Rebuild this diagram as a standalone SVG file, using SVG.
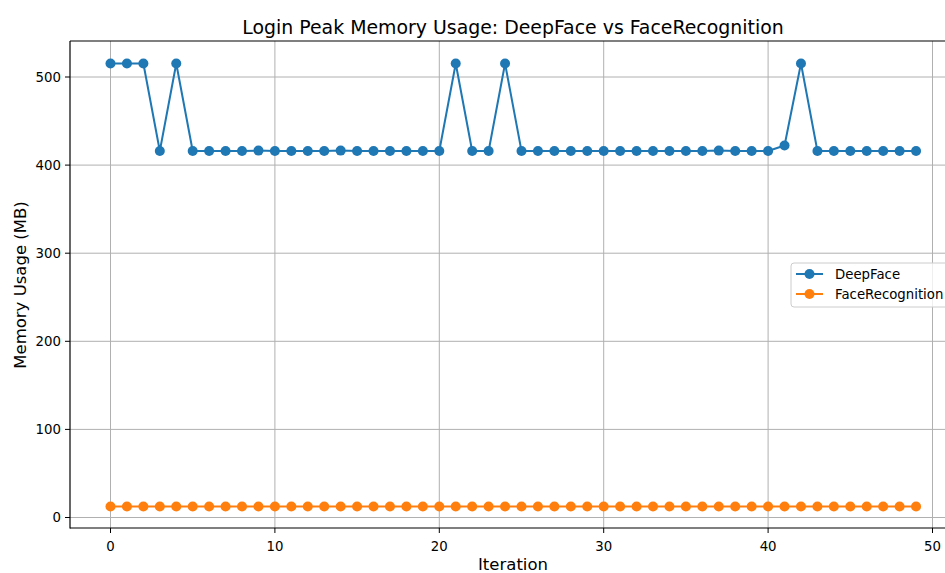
<svg xmlns="http://www.w3.org/2000/svg" width="945" height="573" viewBox="0 0 945 573">
<defs>
<style>
text{font-family:"DejaVu Sans","Liberation Sans",sans-serif;fill:#000}
.grid{stroke:#b0b0b0;stroke-width:1}
.tick{stroke:#000;stroke-width:1}
.tl{font-size:13.3px}
.df{fill:none;stroke:#1f77b4;stroke-width:2;stroke-linejoin:round}
.fr{fill:none;stroke:#ff7f0e;stroke-width:2;stroke-linejoin:round}
</style>
<marker id="mb" markerUnits="userSpaceOnUse" markerWidth="12" markerHeight="12" refX="6" refY="6" viewBox="0 0 12 12"><circle cx="6" cy="6" r="5" fill="#1f77b4"/></marker>
<marker id="mo" markerUnits="userSpaceOnUse" markerWidth="12" markerHeight="12" refX="6" refY="6" viewBox="0 0 12 12"><circle cx="6" cy="6" r="5" fill="#ff7f0e"/></marker>
<clipPath id="ax"><rect x="70" y="41" width="880" height="487"/></clipPath>
</defs>
<rect width="945" height="573" fill="#fff"/>
<g id="grid" clip-path="url(#ax)">
<line class="grid" x1="110.5" y1="41" x2="110.5" y2="528"/>
<line class="grid" x1="274.9" y1="41" x2="274.9" y2="528"/>
<line class="grid" x1="439.3" y1="41" x2="439.3" y2="528"/>
<line class="grid" x1="603.7" y1="41" x2="603.7" y2="528"/>
<line class="grid" x1="768.1" y1="41" x2="768.1" y2="528"/>
<line class="grid" x1="932.5" y1="41" x2="932.5" y2="528"/>
<line class="grid" x1="70" y1="517.5" x2="945" y2="517.5"/>
<line class="grid" x1="70" y1="429.4" x2="945" y2="429.4"/>
<line class="grid" x1="70" y1="341.3" x2="945" y2="341.3"/>
<line class="grid" x1="70" y1="253.2" x2="945" y2="253.2"/>
<line class="grid" x1="70" y1="165.1" x2="945" y2="165.1"/>
<line class="grid" x1="70" y1="77" x2="945" y2="77"/>
</g>
<g id="series" clip-path="url(#ax)">
<polyline id="deepface" class="df" marker-start="url(#mb)" marker-mid="url(#mb)" marker-end="url(#mb)" points="110.5,63.5 126.94,63.5 143.38,63.5 159.82,151 176.26,63.5 192.7,151 209.14,151 225.58,151 242.02,151 258.46,150.6 274.9,151 291.34,151 307.78,151 324.22,151 340.66,150.6 357.1,151 373.54,151 389.98,151 406.42,151 422.86,151 439.3,151 455.74,63.5 472.18,151 488.62,151 505.06,63.5 521.5,151 537.94,151 554.38,151 570.82,151 587.26,151 603.7,151 620.14,151 636.58,151 653.02,151 669.46,151 685.9,151 702.34,151 718.78,150.6 735.22,151 751.66,151 768.1,151 784.54,145.5 800.98,63.5 817.42,151 833.86,151 850.3,151 866.74,151 883.18,151 899.62,151 916.06,151"/>
<polyline id="facerecognition" class="fr" marker-start="url(#mo)" marker-mid="url(#mo)" marker-end="url(#mo)" points="110.5,506.5 126.94,506.5 143.38,506.5 159.82,506.5 176.26,506.5 192.7,506.5 209.14,506.5 225.58,506.5 242.02,506.5 258.46,506.5 274.9,506.5 291.34,506.5 307.78,506.5 324.22,506.5 340.66,506.5 357.1,506.5 373.54,506.5 389.98,506.5 406.42,506.5 422.86,506.5 439.3,506.5 455.74,506.5 472.18,506.5 488.62,506.5 505.06,506.5 521.5,506.5 537.94,506.5 554.38,506.5 570.82,506.5 587.26,506.5 603.7,506.5 620.14,506.5 636.58,506.5 653.02,506.5 669.46,506.5 685.9,506.5 702.34,506.5 718.78,506.5 735.22,506.5 751.66,506.5 768.1,506.5 784.54,506.5 800.98,506.5 817.42,506.5 833.86,506.5 850.3,506.5 866.74,506.5 883.18,506.5 899.62,506.5 916.06,506.5"/>
</g>
<g id="spines" stroke="#000" stroke-width="1.2" fill="none">
<line x1="70" y1="41" x2="945" y2="41"/>
<line x1="70" y1="41" x2="70" y2="528.5"/>
<line x1="70" y1="528" x2="945" y2="528"/>
</g>
<g id="xticks">
<line class="tick" x1="110.5" y1="528" x2="110.5" y2="533"/>
<line class="tick" x1="274.9" y1="528" x2="274.9" y2="533"/>
<line class="tick" x1="439.3" y1="528" x2="439.3" y2="533"/>
<line class="tick" x1="603.7" y1="528" x2="603.7" y2="533"/>
<line class="tick" x1="768.1" y1="528" x2="768.1" y2="533"/>
<line class="tick" x1="932.5" y1="528" x2="932.5" y2="533"/>
<g class="tl" text-anchor="middle">
<text x="110.5" y="551">0</text>
<text x="274.9" y="551">10</text>
<text x="439.3" y="551">20</text>
<text x="603.7" y="551">30</text>
<text x="768.1" y="551">40</text>
<text x="932.5" y="551">50</text>
</g>
</g>
<g id="yticks">
<line class="tick" x1="65" y1="517.5" x2="70" y2="517.5"/>
<line class="tick" x1="65" y1="429.4" x2="70" y2="429.4"/>
<line class="tick" x1="65" y1="341.3" x2="70" y2="341.3"/>
<line class="tick" x1="65" y1="253.2" x2="70" y2="253.2"/>
<line class="tick" x1="65" y1="165.1" x2="70" y2="165.1"/>
<line class="tick" x1="65" y1="77" x2="70" y2="77"/>
<g class="tl" text-anchor="end">
<text x="61" y="522">0</text>
<text x="61" y="434">100</text>
<text x="61" y="346">200</text>
<text x="61" y="258">300</text>
<text x="61" y="170">400</text>
<text x="61" y="82">500</text>
</g>
</g>
<g id="labels">
<text x="513" y="34" text-anchor="middle" font-size="18.9">Login Peak Memory Usage: DeepFace vs FaceRecognition</text>
<text x="513" y="570" text-anchor="middle" font-size="16.5">Iteration</text>
<text transform="translate(26,285) rotate(-90)" text-anchor="middle" font-size="16.5">Memory Usage (MB)</text>
</g>
<g id="legend">
<rect x="791" y="263" width="175" height="44" rx="3" fill="#fff" fill-opacity="0.8" stroke="#cccccc"/>
<line x1="796" y1="274" x2="823" y2="274" stroke="#1f77b4" stroke-width="2"/>
<circle cx="809.5" cy="274" r="5" fill="#1f77b4"/>
<line x1="796" y1="294" x2="823" y2="294" stroke="#ff7f0e" stroke-width="2"/>
<circle cx="809.5" cy="294" r="5" fill="#ff7f0e"/>
<text x="835" y="279" font-size="13.3">DeepFace</text>
<text x="835" y="299" font-size="13.3">FaceRecognition</text>
</g>
</svg>
